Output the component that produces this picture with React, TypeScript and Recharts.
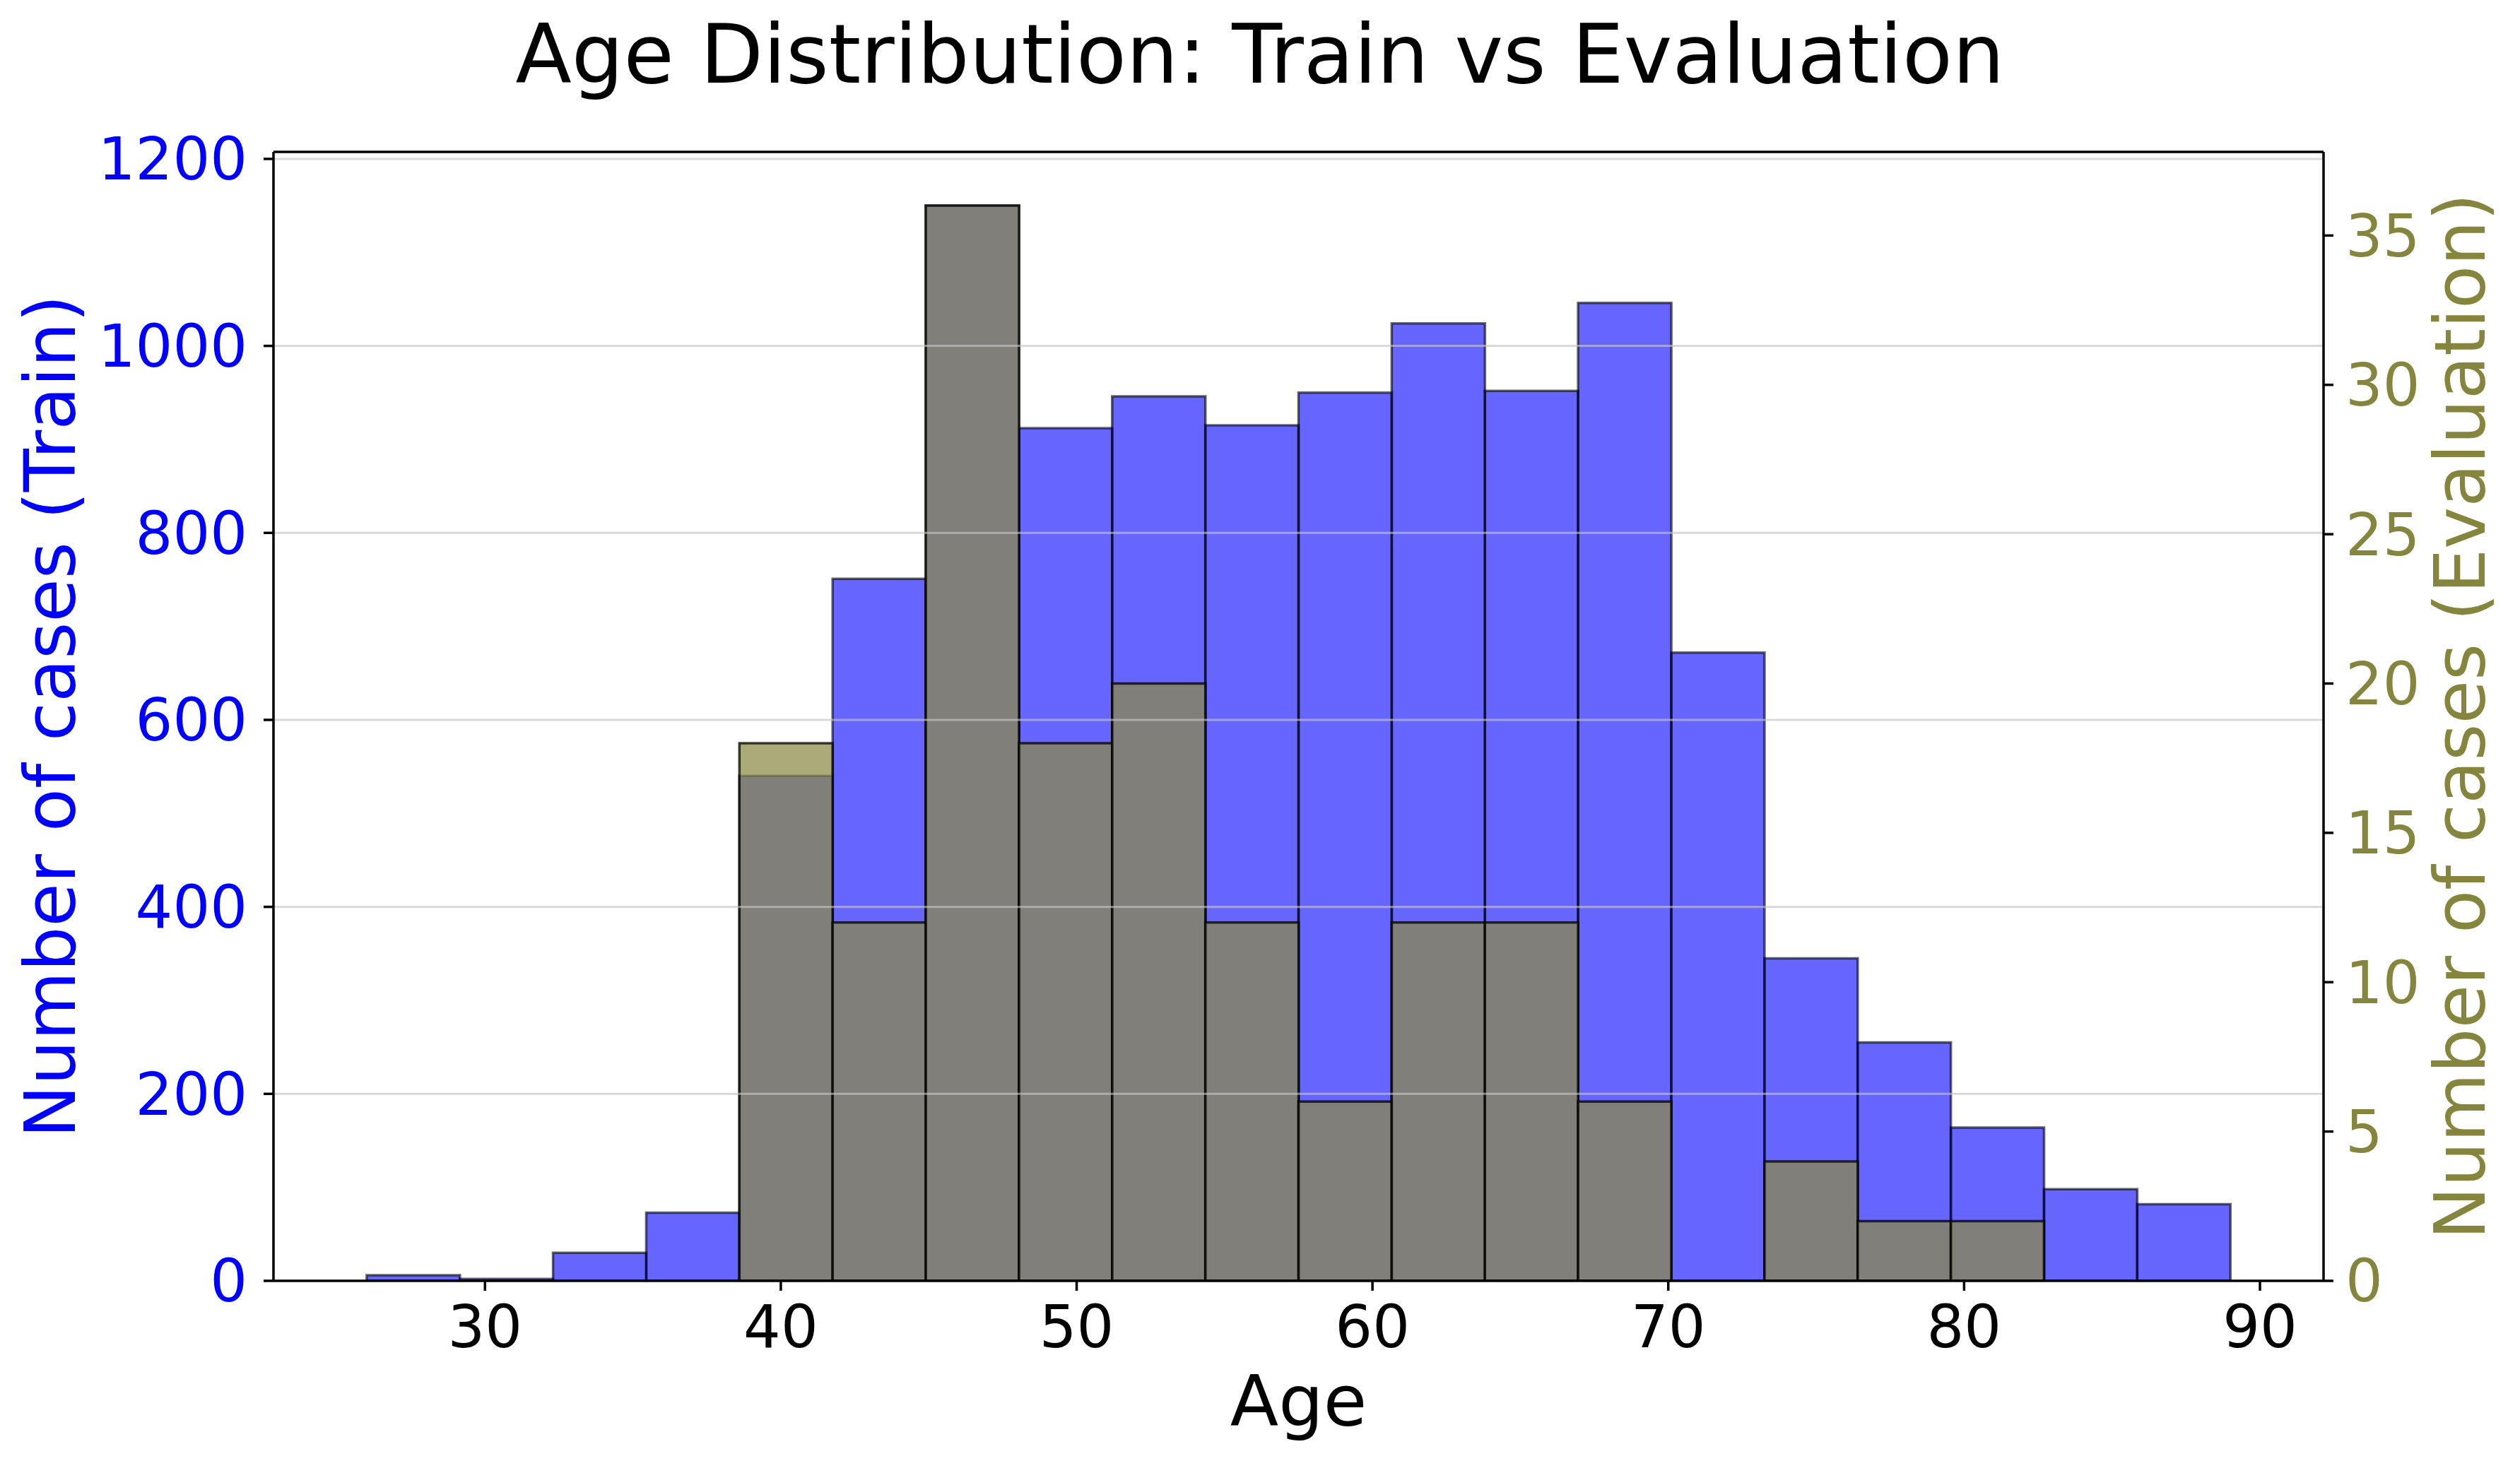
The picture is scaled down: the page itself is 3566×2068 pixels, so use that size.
import React from "react";
import {
  Bar,
  ComposedChart,
  Label,
  ReferenceLine,
  XAxis,
  YAxis,
} from "recharts";

// histogram bin edges (Age) shared by both series
const binEdges = [
  26, 29.15, 32.3, 35.45, 38.6, 41.75, 44.9, 48.05, 51.2, 54.35, 57.5, 60.65,
  63.8, 66.95, 70.1, 73.25, 76.4, 79.55, 82.7, 85.85, 89,
];
const trainCounts = [
  6, 2, 30, 73, 540, 751, 1150, 912, 946, 915, 950, 1024, 952, 1046, 672, 345,
  255, 164, 98, 82,
];
const evalCounts = [0, 0, 0, 0, 18, 12, 36, 18, 20, 12, 6, 12, 12, 6, 0, 4, 2, 2, 0, 0];

const xTicks = [30, 40, 50, 60, 70, 80, 90];
const trainTicks = [0, 200, 400, 600, 800, 1000, 1200];
const evalTicks = [0, 5, 10, 15, 20, 25, 30, 35];
const gridLevels = [200, 400, 600, 800, 1000, 1200];

const data = trainCounts.map((t, i) => ({
  age: (binEdges[i] + binEdges[i + 1]) / 2,
  train: t,
  evaluation: evalCounts[i],
}));

const FONT = "'DejaVu Sans', sans-serif";
const TRAIN_TXT = "#0000ff";
const EVAL_TXT = "#86853d";
const AXIS = { stroke: "#000", strokeWidth: 3.5 };

export default function App() {
  return (
    <div
      style={{
        position: "absolute",
        left: 0,
        top: 0,
        width: 3566,
        height: 2068,
        background: "#fff",
        fontFamily: FONT,
      }}
    >
      <div
        style={{
          position: "absolute",
          left: 0,
          top: 19,
          width: 3566,
          textAlign: "center",
          fontSize: 116,
          lineHeight: "116px",
          color: "#000",
        }}
      >
        Age Distribution: Train vs Evaluation
      </div>
      <ComposedChart
        width={3566}
        height={2068}
        data={data}
        margin={{ top: 214, right: 0, bottom: 0, left: 0 }}
        barCategoryGap={0}
        barGap={0}
        style={{ fontFamily: FONT }}
      >
        <XAxis
          xAxisId="x"
          type="number"
          dataKey="age"
          domain={[22.85, 92.15]}
          allowDataOverflow
          ticks={xTicks}
          height={255}
          tickSize={14}
          tickMargin={21}
          axisLine={AXIS}
          tickLine={AXIS}
          tick={{ fill: "#000", fontSize: 83, fontFamily: FONT }}
        >
          <Label
            value="Age"
            position="insideBottom"
            offset={50}
            style={{ fontSize: 100, fill: "#000", fontFamily: FONT }}
          />
        </XAxis>
        <XAxis
          xAxisId="e"
          orientation="top"
          type="number"
          dataKey="age"
          domain={[22.85, 92.15]}
          allowDataOverflow
          height={1}
          tick={false}
          tickLine={false}
          axisLine={AXIS}
        />
        <YAxis
          yAxisId="left"
          domain={[0, 1207.5]}
          allowDataOverflow
          ticks={trainTicks}
          width={387}
          tickSize={14}
          tickMargin={23}
          axisLine={AXIS}
          tickLine={AXIS}
          tick={{ fill: TRAIN_TXT, fontSize: 83, fontFamily: FONT }}
        >
          <Label
            value="Number of cases (Train)"
            angle={-90}
            position="insideLeft"
            offset={70}
            style={{ fontSize: 100, fill: TRAIN_TXT, fontFamily: FONT, textAnchor: "middle" }}
          />
        </YAxis>
        <YAxis
          yAxisId="right"
          orientation="right"
          domain={[0, 37.8]}
          allowDataOverflow
          ticks={evalTicks}
          width={278}
          tickSize={14}
          tickMargin={17}
          axisLine={AXIS}
          tickLine={AXIS}
          tick={{ fill: EVAL_TXT, fontSize: 83, fontFamily: FONT }}
        >
          <Label
            value="Number of cases (Evaluation)"
            angle={-90}
            position="insideRight"
            offset={86}
            style={{ fontSize: 100, fill: EVAL_TXT, fontFamily: FONT, textAnchor: "middle" }}
          />
        </YAxis>
        <Bar
          xAxisId="x"
          yAxisId="left"
          dataKey="train"
          name="Train"
          fill="#0000ff"
          fillOpacity={0.6}
          stroke="#000"
          strokeOpacity={0.6}
          strokeWidth={3.5}
          isAnimationActive={false}
        />
        {gridLevels.map((v) => (
          <ReferenceLine
            key={v}
            xAxisId="x"
            yAxisId="left"
            y={v}
            stroke="#c4c4c4"
            strokeOpacity={0.65}
            strokeWidth={3}
          />
        ))}
        <Bar
          xAxisId="e"
          yAxisId="right"
          dataKey="evaluation"
          name="Evaluation"
          fill="#8a8945"
          fillOpacity={0.72}
          stroke="#000"
          strokeOpacity={0.75}
          strokeWidth={3.5}
          isAnimationActive={false}
        />
      </ComposedChart>
    </div>
  );
}
